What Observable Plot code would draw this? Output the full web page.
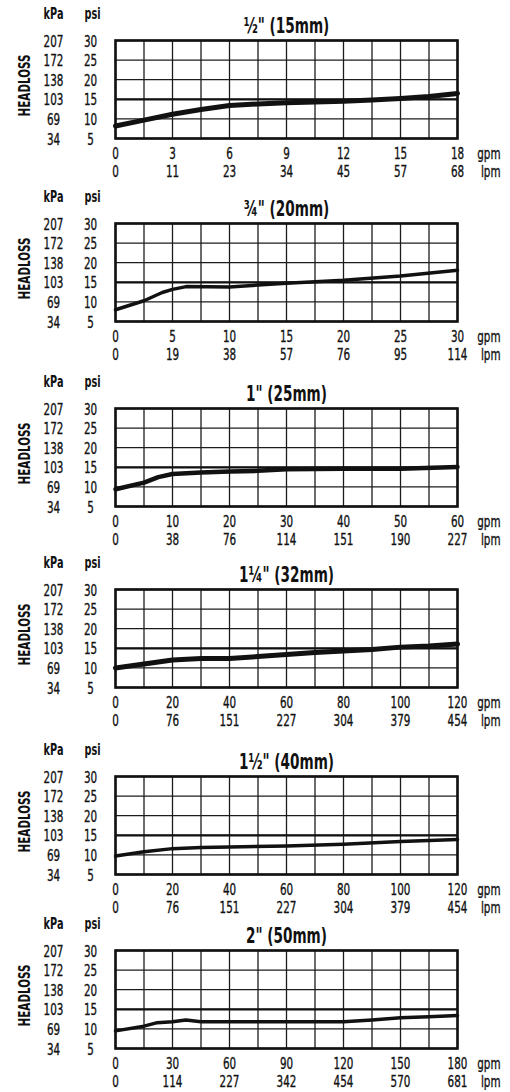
<!DOCTYPE html>
<html><head><meta charset="utf-8">
<script src="https://cdn.jsdelivr.net/npm/d3@7"></script>
<script src="https://cdn.jsdelivr.net/npm/@observablehq/plot@0.6"></script>
<style>
body{margin:0;background:#fff;}
#root{position:relative;width:510px;height:1092px;overflow:hidden;background:#fff;}
#root svg{position:absolute;left:0;}
</style></head><body><div id="root"></div>
<script>
// ---- data ----
const psiTicks = [30, 25, 20, 15, 10, 5];
const kpaLabels = ["207", "172", "138", "103", "69", "34"];
const titles = ["½\" (15mm)", "¾\" (20mm)", "1\" (25mm)", "1¼\" (32mm)", "1½\" (40mm)", "2\" (50mm)"];
const gpmMax = [18, 30, 60, 120, 120, 180];

const gpmTicks1 = [0, 3, 6, 9, 12, 15, 18];
const gpmTicks2 = [0, 5, 10, 15, 20, 25, 30];
const gpmTicks3 = [0, 10, 20, 30, 40, 50, 60];
const gpmTicks4 = [0, 20, 40, 60, 80, 100, 120];
const gpmTicks5 = [0, 20, 40, 60, 80, 100, 120];
const gpmTicks6 = [0, 30, 60, 90, 120, 150, 180];

const lpmLabels1 = ["0", "11", "23", "34", "45", "57", "68"];
const lpmLabels2 = ["0", "19", "38", "57", "76", "95", "114"];
const lpmLabels3 = ["0", "38", "76", "114", "151", "190", "227"];
const lpmLabels4 = ["0", "76", "151", "227", "304", "379", "454"];
const lpmLabels5 = ["0", "76", "151", "227", "304", "379", "454"];
const lpmLabels6 = ["0", "114", "227", "342", "454", "570", "681"];

const flow1 = [0, 1.5, 3, 4.5, 6, 7.5, 9, 10.5, 12, 13.5, 15, 16.5, 18];
const psi1  = [8.2, 9.7, 11.2, 12.4, 13.4, 13.8, 14.1, 14.3, 14.5, 14.8, 15.2, 15.7, 16.5];
const flow2 = [0, 2.5, 4.1, 5, 6.2, 10, 12.5, 15, 20, 25, 30];
const psi2  = [8.0, 10.3, 12.4, 13.2, 13.9, 13.8, 14.3, 14.75, 15.5, 16.6, 18.1];
const flow3 = [0, 5, 7.5, 10, 15, 20, 25, 30, 40, 50, 60];
const psi3  = [9.4, 11.1, 12.5, 13.3, 13.7, 13.9, 14.1, 14.5, 14.6, 14.6, 15.1];
const flow4 = [0, 10, 20, 30, 40, 50, 60, 70, 80, 90, 100, 110, 120];
const psi4  = [10, 11, 12, 12.4, 12.4, 12.9, 13.4, 13.9, 14.3, 14.7, 15.3, 15.6, 16.1];
const flow5 = [0, 10, 20, 30, 40, 60, 80, 100, 120];
const psi5  = [9.7, 10.8, 11.6, 11.9, 12.0, 12.3, 12.7, 13.4, 13.9];
const flow6 = [0, 15, 22, 30, 37, 45, 60, 90, 120, 135, 150, 165, 180];
const psi6  = [9.5, 10.7, 11.6, 11.8, 12.25, 11.8, 11.8, 11.8, 11.8, 12.25, 12.85, 13.1, 13.4];

// ---- layout ----
const panels = [
  {flow: flow1, psi: psi1, ticks: gpmTicks1, lpm: lpmLabels1, top: 40,  lw: 5},
  {flow: flow2, psi: psi2, ticks: gpmTicks2, lpm: lpmLabels2, top: 223, lw: 3.5},
  {flow: flow3, psi: psi3, ticks: gpmTicks3, lpm: lpmLabels3, top: 408, lw: 4.5},
  {flow: flow4, psi: psi4, ticks: gpmTicks4, lpm: lpmLabels4, top: 589, lw: 5},
  {flow: flow5, psi: psi5, ticks: gpmTicks5, lpm: lpmLabels5, top: 776, lw: 3.5},
  {flow: flow6, psi: psi6, ticks: gpmTicks6, lpm: lpmLabels6, top: 950, lw: 3.5}
];

const font = "'Liberation Sans Narrow', 'DejaVu Sans Condensed', 'Arial Narrow', sans-serif";
const ink = "#111";
const squeeze = 0.72;
const root = document.getElementById("root");
const T = {lineAnchor: "middle", fill: ink};
const N = {...T, stroke: ink, strokeWidth: 0.35, fontSize: 16, textAnchor: "middle"};

panels.forEach((p, k) => {
  const max = gpmMax[k];
  const table = p.flow.map((f, i) => ({gpm: f, psi: p.psi[i]}));
  const svg = Plot.plot({
    width: 510, height: 180,
    marginLeft: 115, marginRight: 53, marginTop: 40, marginBottom: 42,
    style: {fontFamily: font, background: "transparent", color: ink},
    x: {domain: [0, max], axis: null},
    y: {domain: [5, 30], axis: null},
    marks: [
      Plot.gridX({interval: max / 12, stroke: "#1c1c1c", strokeOpacity: 1, strokeWidth: 1.3}),
      Plot.gridY({interval: 5, stroke: "#1c1c1c", strokeOpacity: 1, strokeWidth: 1.3}),
      Plot.ruleY(psiTicks.filter(d => d === 15), {stroke: "#111", strokeWidth: 2.2}),
      Plot.frame({stroke: "#111", strokeWidth: 2.6}),
      Plot.line(table, {x: "gpm", y: "psi", stroke: "#111", strokeWidth: p.lw, strokeLinejoin: "round"}),
      Plot.text(psiTicks, {...N, y: d => d, text: d => String(d), frameAnchor: "left", dx: -25, dy: 1}),
      Plot.text(psiTicks, {...N, y: d => d, text: (d, i) => kpaLabels[i], frameAnchor: "left", dx: -62, dy: 1}),
      Plot.text(["kPa"], {...T, text: d => d, frameAnchor: "top-left", dx: -62, dy: -26, textAnchor: "middle", fontSize: 15, fontWeight: "bold"}),
      Plot.text(["psi"], {...T, text: d => d, frameAnchor: "top-left", dx: -23, dy: -26, textAnchor: "middle", fontSize: 15, fontWeight: "bold"}),
      Plot.text([titles[k]], {...T, text: d => d, frameAnchor: "top", dy: -14, textAnchor: "middle", fontSize: 21, fontWeight: "bold"}),
      Plot.text(["HEADLOSS"], {...T, text: d => d, frameAnchor: "left", dx: -91, dy: -4, rotate: -90, textAnchor: "middle", fontSize: 16, fontWeight: "bold"}),
      Plot.text(p.ticks, {...N, x: d => d, text: d => String(d), frameAnchor: "bottom", dy: 15}),
      Plot.text(p.ticks, {...N, x: d => d, text: (d, i) => p.lpm[i], frameAnchor: "bottom", dy: 33}),
      Plot.text(["gpm"], {...N, text: d => d, frameAnchor: "bottom-right", dx: 43, dy: 15, textAnchor: "end"}),
      Plot.text(["lpm"], {...N, text: d => d, frameAnchor: "bottom-right", dx: 43, dy: 33, textAnchor: "end"})
    ]
  });
  svg.style.top = (p.top - 40) + "px";
  root.appendChild(svg);
  // condensed look: squeeze glyphs horizontally
  svg.querySelectorAll("text").forEach(t => {
    const L = t.getComputedTextLength();
    if (L > 0) {
      t.setAttribute("textLength", (L * squeeze).toFixed(2));
      t.setAttribute("lengthAdjust", "spacingAndGlyphs");
    }
  });
});
</script>
</body></html>
